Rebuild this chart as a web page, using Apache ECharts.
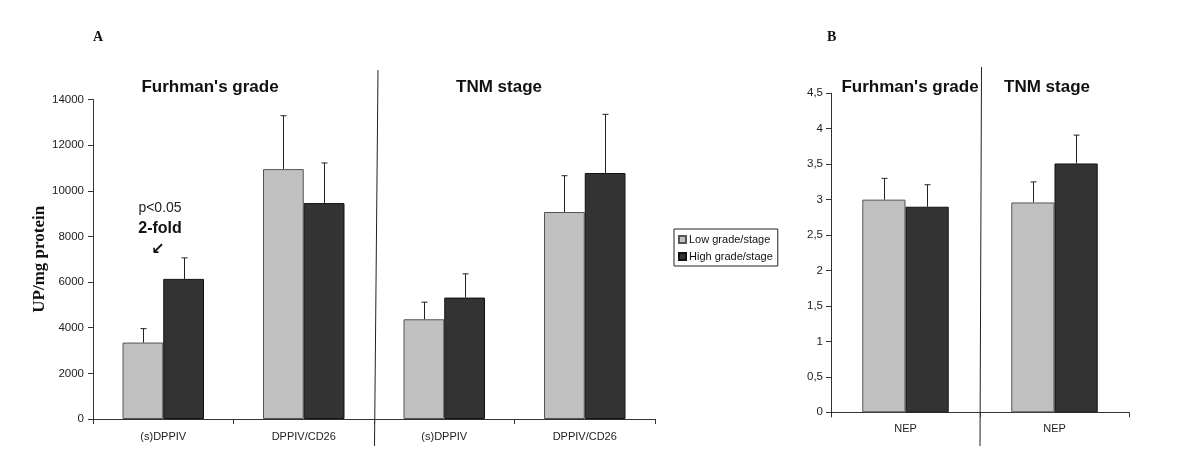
<!DOCTYPE html>
<html><head><meta charset="utf-8">
<script src="https://cdn.jsdelivr.net/npm/echarts@6/dist/echarts.min.js"></script>
<style>html,body{margin:0;padding:0;background:#fff}#c{width:1200px;height:463px}</style>
</head><body><div id="c"></div>
<script>
const categoriesA = ['(s)DPPIV', 'DPPIV/CD26', '(s)DPPIV', 'DPPIV/CD26'];
const lowA = [3350, 10950, 4370, 9070];
const lowSdA = [610, 2340, 750, 1590];
const highA = [6140, 9460, 5320, 10780];
const highSdA = [920, 1760, 1040, 2570];
const categoriesB = ['NEP', 'NEP'];
const lowB = [3.0, 2.96];
const lowSdB = [0.30, 0.29];
const highB = [2.90, 3.51];
const highSdB = [0.31, 0.40];
const seriesNames = ['Low grade/stage', 'High grade/stage'];
const groupTitles = ["Furhman's grade", 'TNM stage'];

const LIGHT = '#c0c0c0', DARK = '#333333';
const GAP = 0.42;
const sans = 'Liberation Sans, Arial, sans-serif';

function errSeries(name, gi, means, sds, side) {
  return {
    type: 'custom', name: name, xAxisIndex: gi, yAxisIndex: gi, z: 5,
    data: means.map((m, i) => [i, m, m + sds[i]]),
    renderItem: function (params, api) {
      const x = api.value(0);
      const base = api.coord([x, api.value(1)]);
      const top = api.coord([x, api.value(2)]);
      const band = api.size([1, 0])[0];
      const bw = band * (1 - GAP) / 2;
      const cx = Math.round(base[0] + side * bw / 2) + 0.5;
      const st = { stroke: '#222', lineWidth: 1 };
      return { type: 'group', children: [
        { type: 'line', shape: { x1: cx, y1: base[1], x2: cx, y2: top[1] }, style: st },
        { type: 'line', shape: { x1: cx - 3, y1: top[1], x2: cx + 3, y2: top[1] }, style: st }
      ]};
    }
  };
}
function barSeries(name, gi, data, color, border) {
  return {
    type: 'bar', name: name, xAxisIndex: gi, yAxisIndex: gi, data: data,
    barCategoryGap: (GAP * 100) + '%', barGap: '0%',
    itemStyle: { color: color, borderColor: border, borderWidth: 1 },
    emphasis: { disabled: true }
  };
}
const axisCommon = {
  axisLine: { show: true, lineStyle: { color: '#333', width: 1 } },
  axisTick: { show: true, length: 5, lineStyle: { color: '#333' } },
  splitLine: { show: false },
  axisLabel: { color: '#222', fontFamily: sans, fontSize: 11 }
};

const chart = echarts.init(document.getElementById('c'), null, { renderer: 'canvas' });
chart.setOption({
  animation: false,
  backgroundColor: '#fff',
  grid: [
    { left: 93, top: 99.5, width: 562, height: 319.5 },
    { left: 831, top: 93.3, width: 298, height: 319 }
  ],
  xAxis: [
    Object.assign({}, axisCommon, { type: 'category', gridIndex: 0, data: categoriesA,
      axisLabel: Object.assign({}, axisCommon.axisLabel, { margin: 12, fontSize: 11 }) }),
    Object.assign({}, axisCommon, { type: 'category', gridIndex: 1, data: categoriesB,
      axisLabel: Object.assign({}, axisCommon.axisLabel, { margin: 11, fontSize: 11 }) })
  ],
  yAxis: [
    Object.assign({}, axisCommon, { type: 'value', gridIndex: 0, min: 0, max: 14000, interval: 2000,
      axisLabel: Object.assign({}, axisCommon.axisLabel, { formatter: v => String(v), margin: 9, fontSize: 11.5 }),
      name: 'UP/mg protein', nameLocation: 'middle', nameRotate: 90, nameGap: 43,
      nameTextStyle: { fontFamily: 'Liberation Serif, Times New Roman, serif', fontWeight: 'bold', fontSize: 17, color: '#111' } }),
    Object.assign({}, axisCommon, { type: 'value', gridIndex: 1, min: 0, max: 4.5, interval: 0.5,
      axisLabel: Object.assign({}, axisCommon.axisLabel, { formatter: v => String(v).replace('.', ','), margin: 8, fontSize: 11.5 }) })
  ],
  legend: {
    data: seriesNames, orient: 'vertical', left: 674, top: 229,
    itemWidth: 7, itemHeight: 7, itemGap: 6, icon: 'rect',
    borderColor: '#222', borderWidth: 1, padding: [5, 5, 4, 4], borderRadius: 0,
    textStyle: { fontFamily: sans, fontSize: 11, color: '#111', padding: [0, 0, 0, -2] },
    selectedMode: false
  },
  title: [
    { text: groupTitles[0], left: 205, top: 74, textAlign: 'center', textStyle: { fontFamily: sans, fontWeight: 'bold', fontSize: 17, color: '#111' } },
    { text: groupTitles[1], left: 494, top: 74, textAlign: 'center', textStyle: { fontFamily: sans, fontWeight: 'bold', fontSize: 17, color: '#111' } },
    { text: groupTitles[0], left: 905, top: 74, textAlign: 'center', textStyle: { fontFamily: sans, fontWeight: 'bold', fontSize: 17, color: '#111' } },
    { text: groupTitles[1], left: 1042, top: 74, textAlign: 'center', textStyle: { fontFamily: sans, fontWeight: 'bold', fontSize: 17, color: '#111' } },
    { text: 'A', left: 88, top: 25, textStyle: { fontFamily: 'Liberation Serif, serif', fontWeight: 'bold', fontSize: 14, color: '#111' } },
    { text: 'B', left: 822, top: 25, textStyle: { fontFamily: 'Liberation Serif, serif', fontWeight: 'bold', fontSize: 14, color: '#111' } }
  ],
  graphic: [
    { type: 'line', shape: { x1: 378, y1: 70, x2: 374.5, y2: 446 }, style: { stroke: '#222', lineWidth: 1 } },
    { type: 'line', shape: { x1: 981.5, y1: 67, x2: 980, y2: 446 }, style: { stroke: '#222', lineWidth: 1 } },
    { type: 'text', style: { text: 'p<0.05', x: 160, y: 208, textAlign: 'center', textVerticalAlign: 'middle', font: '14px ' + sans, fill: '#222' } },
    { type: 'text', style: { text: '2-fold', x: 160, y: 229, textAlign: 'center', textVerticalAlign: 'middle', font: 'bold 16px ' + sans, fill: '#111' } },
    { type: 'text', style: { text: '\u2199', x: 158, y: 250, textAlign: 'center', textVerticalAlign: 'middle', font: 'bold 16px DejaVu Sans, sans-serif', fill: '#111' } }
  ],
  series: [
    barSeries(seriesNames[0], 0, lowA, LIGHT, '#555'),
    barSeries(seriesNames[1], 0, highA, DARK, '#111'),
    errSeries(seriesNames[0], 0, lowA, lowSdA, -1),
    errSeries(seriesNames[1], 0, highA, highSdA, 1),
    barSeries(seriesNames[0], 1, lowB, LIGHT, '#555'),
    barSeries(seriesNames[1], 1, highB, DARK, '#111'),
    errSeries(seriesNames[0], 1, lowB, lowSdB, -1),
    errSeries(seriesNames[1], 1, highB, highSdB, 1)
  ]
});
</script></body></html>
